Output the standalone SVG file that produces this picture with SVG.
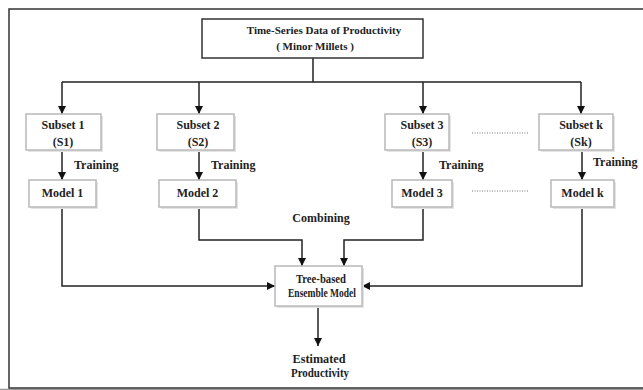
<svg xmlns="http://www.w3.org/2000/svg" width="643" height="390" viewBox="0 0 643 390">
<style>
.t{font-family:"Liberation Serif",serif;font-weight:bold;fill:#222;text-anchor:middle}
.tl{font-family:"Liberation Serif",serif;font-weight:bold;fill:#222}
.box{fill:#fff;stroke:#b8b8b8;stroke-width:1.5}
.sh{fill:#e4e4e4}
.top{fill:#fff;stroke:#333;stroke-width:1.5}
.c{fill:none;stroke:#222;stroke-width:1.5}
.dot{fill:none;stroke:#777;stroke-width:1;stroke-dasharray:1 1.5}
</style>
<defs>
<marker id="ah" markerUnits="userSpaceOnUse" markerWidth="8" markerHeight="8" refX="8" refY="4" orient="auto">
<path d="M0,0 L8,4 L0,8 z" fill="#111"/>
</marker>
</defs>
<rect x="0" y="0" width="643" height="390" fill="#fff"/>
<g id="frame">
<line x1="0" y1="389.5" x2="643" y2="389.5" stroke="#999" stroke-width="1.5"/>
<rect x="9" y="9" width="700" height="379" fill="none" stroke="#333" stroke-width="1.5"/>
</g>
<g id="connectors">
<path class="c" d="M313,58 V82 M62,82 H581"/>
<path class="c" d="M62,82 V114" marker-end="url(#ah)"/>
<path class="c" d="M199,82 V114" marker-end="url(#ah)"/>
<path class="c" d="M423,82 V114" marker-end="url(#ah)"/>
<path class="c" d="M581,82 V114" marker-end="url(#ah)"/>
<path class="c" d="M62,150 V180" marker-end="url(#ah)"/>
<path class="c" d="M199,150 V180" marker-end="url(#ah)"/>
<path class="c" d="M423,150 V180" marker-end="url(#ah)"/>
<path class="c" d="M582,150 V180" marker-end="url(#ah)"/>
<path class="c" d="M62,207 V286 H275" marker-end="url(#ah)"/>
<path class="c" d="M199,207 V240 H302 V266" marker-end="url(#ah)"/>
<path class="c" d="M423,207 V240 H344 V266" marker-end="url(#ah)"/>
<path class="c" d="M582,207 V286 H362" marker-end="url(#ah)"/>
<path class="c" d="M318,306 V346" marker-end="url(#ah)"/>
<path class="dot" d="M472,133 H529 M472,191 H529"/>
<text class="tl" x="74" y="169" font-size="12">Training</text>
<text class="tl" x="211" y="169" font-size="12">Training</text>
<text class="tl" x="439" y="169" font-size="12">Training</text>
<text class="tl" x="593" y="166" font-size="12">Training</text>
<text class="t" x="321" y="222" font-size="12">Combining</text>
</g>
<g id="source">
<rect class="top" x="202" y="19" width="221" height="39"/>
<text class="t" x="324" y="34" font-size="11">Time-Series Data of Productivity</text>
<text class="t" x="315" y="50" font-size="11">( Minor Millets )</text>
</g>
<g id="subset1">
<rect class="sh" x="28" y="116" width="75" height="36"/>
<rect class="box" x="26" y="114" width="75" height="36"/>
<text class="t" x="63" y="129" font-size="12">Subset 1</text>
<text class="t" x="63" y="146" font-size="12">(S1)</text>
</g>
<g id="subset2">
<rect class="sh" x="159" y="116" width="77" height="36"/>
<rect class="box" x="157" y="114" width="77" height="36"/>
<text class="t" x="198" y="129" font-size="12">Subset 2</text>
<text class="t" x="198" y="146" font-size="12">(S2)</text>
</g>
<g id="subset3">
<rect class="sh" x="387" y="116" width="64" height="36"/>
<rect class="box" x="385" y="114" width="64" height="36"/>
<text class="t" x="422" y="129" font-size="12">Subset 3</text>
<text class="t" x="422" y="146" font-size="12">(S3)</text>
</g>
<g id="subsetk">
<rect class="sh" x="541" y="116" width="74" height="36"/>
<rect class="box" x="539" y="114" width="74" height="36"/>
<text class="t" x="581" y="129" font-size="12">Subset k</text>
<text class="t" x="581" y="146" font-size="12">(Sk)</text>
</g>
<g id="model1">
<rect class="sh" x="31" y="182" width="67" height="27"/>
<rect class="box" x="29" y="180" width="67" height="27"/>
<text class="t" x="62.5" y="197" font-size="12">Model 1</text>
</g>
<g id="model2">
<rect class="sh" x="161" y="182" width="77" height="27"/>
<rect class="box" x="159" y="180" width="77" height="27"/>
<text class="t" x="197.5" y="197" font-size="12">Model 2</text>
</g>
<g id="model3">
<rect class="sh" x="394" y="182" width="60" height="27"/>
<rect class="box" x="392" y="180" width="60" height="27"/>
<text class="t" x="422" y="197" font-size="12">Model 3</text>
</g>
<g id="modelk">
<rect class="sh" x="553" y="182" width="63" height="27"/>
<rect class="box" x="551" y="180" width="63" height="27"/>
<text class="t" x="582.5" y="197" font-size="12">Model k</text>
</g>
<g id="ensemble">
<rect class="sh" x="277" y="268" width="87" height="40"/>
<rect class="box" x="275" y="266" width="87" height="40"/>
<text class="t" x="321" y="283" font-size="11.5" textLength="50" lengthAdjust="spacingAndGlyphs">Tree-based</text>
<text class="t" x="322" y="297" font-size="11.5" textLength="68" lengthAdjust="spacingAndGlyphs">Ensemble Model</text>
</g>
<g id="output">
<text class="t" x="319" y="363" font-size="13" textLength="53" lengthAdjust="spacingAndGlyphs">Estimated</text>
<text class="t" x="320" y="377" font-size="11.5" textLength="58" lengthAdjust="spacingAndGlyphs">Productivity</text>
</g>
</svg>
